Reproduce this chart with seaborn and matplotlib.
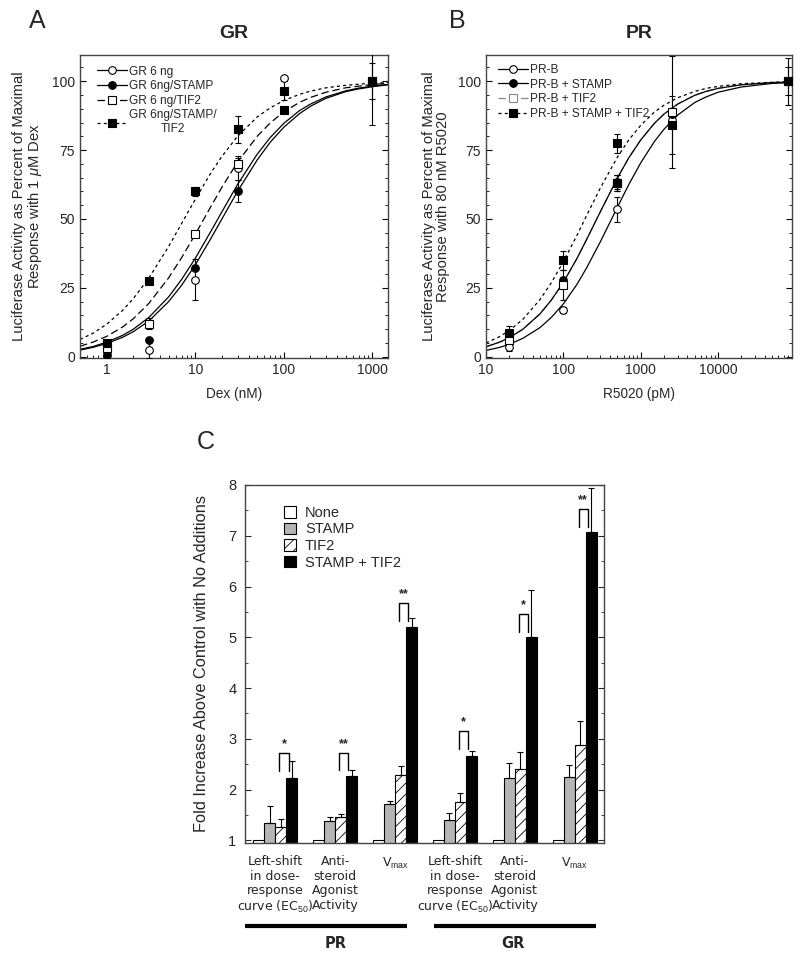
import numpy as np
import pandas as pd
import matplotlib
matplotlib.use("Agg")
import matplotlib.pyplot as plt
import seaborn as sns
from matplotlib.lines import Line2D
from matplotlib.patches import Patch
from matplotlib.ticker import MultipleLocator, LogLocator, NullFormatter
from matplotlib.transforms import blended_transform_factory

sns.set_style("ticks")
plt.rcParams["font.family"] = ["Liberation Sans", "DejaVu Sans"]
plt.rcParams["mathtext.fontset"] = "custom"
plt.rcParams["mathtext.rm"] = "Liberation Sans"
plt.rcParams["mathtext.it"] = "Liberation Sans:italic"
plt.rcParams["mathtext.bf"] = "Liberation Sans:bold"
plt.rcParams["hatch.linewidth"] = 0.6

# ---------------- panel A : GR, Dex (nM) ----------------
dex_fit = [0.5, 0.7, 1, 1.5, 2, 3, 5, 7, 10, 15, 20, 30, 50, 70, 100, 150, 200, 300, 500, 700, 1000, 1500]
gr_fit = [2.4, 3.4, 4.8, 7.0, 9.1, 13.0, 20.0, 25.9, 33.3, 42.9, 50.0, 60.0, 71.4, 77.8, 83.3, 88.2, 90.9, 93.8, 96.2, 97.2, 98.0, 98.7]
gr_stamp_fit = [2.7, 3.7, 5.3, 7.7, 10.0, 14.3, 21.7, 28.0, 35.7, 45.5, 52.6, 62.5, 73.5, 79.5, 84.7, 89.3, 91.7, 94.3, 96.5, 97.5, 98.2, 98.8]
gr_tif2_fit = [3.8, 5.3, 7.4, 10.7, 13.8, 19.4, 28.6, 35.9, 44.4, 54.5, 61.5, 70.6, 80.0, 84.8, 88.9, 92.3, 94.1, 96.0, 97.6, 98.2, 98.8, 99.2]
gr_both_fit = [6.3, 8.5, 11.8, 16.7, 21.1, 28.6, 40.0, 48.3, 57.1, 66.7, 72.7, 80.0, 87.0, 90.3, 93.0, 95.2, 96.4, 97.6, 98.5, 98.9, 99.3, 99.5]

gr_x = [1, 3, 10, 30, 100, 1000]
gr_y = [2, 2.5, 28, 68.5, 101, 100]
gr_err = [1, 3, 7.5, 4.5, 0, 6.5]
gr_stamp_x = [1, 3, 10, 30, 1000]
gr_stamp_y = [0.8, 6, 32.3, 60, 100]
gr_stamp_err = [0.5, 0.5, 1, 4, 0]
gr_tif2_x = [1, 3, 10, 30, 1000]
gr_tif2_y = [3, 12, 44.5, 70, 100]
gr_tif2_err = [1.5, 2, 1, 2, 0]
gr_both_x = [1, 3, 10, 30, 100, 100, 1000]
gr_both_y = [5, 27.5, 60, 82.5, 96.5, 89.5, 100]
gr_both_err = [1, 1, 1.5, 5, 3.5, 0, 16]

gr_labels = ["GR 6 ng", "GR 6ng/STAMP", "GR 6 ng/TIF2", "GR 6ng/STAMP/\nTIF2"]

# ---------------- panel B : PR, R5020 (pM) ----------------
r5020_fit = [10, 15, 20, 30, 50, 70, 100, 150, 200, 300, 500, 700, 1000, 1500, 2000, 3000, 5000, 7000, 10000, 20000, 50000, 90000]
pr_fit = [2.3, 3.4, 4.5, 6.7, 10.6, 14.3, 19.2, 26.3, 32.3, 41.7, 54.3, 62.5, 70.4, 78.1, 82.6, 87.7, 92.3, 94.3, 96.0, 97.9, 99.2, 99.5]
pr_stamp_fit = [3.6, 5.3, 6.9, 10.0, 15.6, 20.6, 27.0, 35.7, 42.6, 52.6, 64.9, 72.2, 78.7, 84.7, 88.1, 91.7, 94.9, 96.3, 97.4, 98.7, 99.5, 99.7]
pr_tif2_fit = [3.6, 5.3, 6.9, 10.0, 15.6, 20.6, 27.0, 35.7, 42.6, 52.6, 64.9, 72.2, 78.7, 84.7, 88.1, 91.7, 94.9, 96.3, 97.4, 98.7, 99.5, 99.7]
pr_both_fit = [5.0, 7.3, 9.5, 13.6, 20.8, 26.9, 34.5, 44.1, 51.3, 61.2, 72.5, 78.7, 84.0, 88.8, 91.3, 94.0, 96.3, 97.4, 98.1, 99.1, 99.6, 99.8]

pr_x = [20, 100, 500, 2500, 80000]
pr_y = [3.7, 17, 53.5, 86, 100]
pr_err = [1.5, 1, 4.5, 2, 5]
pr_stamp_x = [20, 100, 500, 2500, 80000]
pr_stamp_y = [7, 28, 63.5, 88, 100]
pr_stamp_err = [1, 1, 2.5, 2, 1]
pr_tif2_x = [20, 100, 500, 2500, 80000]
pr_tif2_y = [6, 26, 63, 88.7, 100]
pr_tif2_err = [1, 5.5, 3, 20.3, 8.5]
pr_both_x = [20, 100, 500, 500, 2500, 80000]
pr_both_y = [8.5, 35, 77.5, 63, 84, 100]
pr_both_err = [2.5, 3.5, 3.5, 3, 10.5, 0]

pr_labels = ["PR-B", "PR-B + STAMP", "PR-B + TIF2", "PR-B + STAMP + TIF2"]

# ---------------- panel C : fold increase ----------------
group_keys = ["PR_ec50", "PR_anti", "PR_vmax", "GR_ec50", "GR_anti", "GR_vmax"]
group_labels = [
    "Left-shift\nin dose-\nresponse\ncurve (EC$_{50}$)",
    "Anti-\nsteroid\nAgonist\nActivity",
    "V$_{\\mathrm{max}}$",
    "Left-shift\nin dose-\nresponse\ncurve (EC$_{50}$)",
    "Anti-\nsteroid\nAgonist\nActivity",
    "V$_{\\mathrm{max}}$",
]
conditions = ["None", "STAMP", "TIF2", "STAMP + TIF2"]
none_vals = [1, 1, 1, 1, 1, 1]
stamp_vals = [1.35, 1.39, 1.71, 1.40, 2.23, 2.25]
stamp_err = [0.32, 0.07, 0.07, 0.14, 0.29, 0.23]
tif2_vals = [1.26, 1.47, 2.29, 1.76, 2.41, 2.87]
tif2_err = [0.17, 0.05, 0.17, 0.18, 0.33, 0.48]
both_vals = [2.22, 2.26, 5.20, 2.67, 5.00, 7.07]
both_err = [0.34, 0.12, 0.18, 0.10, 0.94, 0.87]
bracket_low = [2.37, 2.39, 5.32, 2.80, 5.10, 7.18]
bracket_high = [2.72, 2.72, 5.68, 3.15, 5.46, 7.53]
stars = ["*", "**", "**", "*", "*", "**"]

fig = plt.figure(figsize=(8, 9.55), dpi=100)
axA = fig.add_axes([0.1, 0.625, 0.385, 0.3174])
axB = fig.add_axes([0.6075, 0.625, 0.3825, 0.3174])
axC = fig.add_axes([0.306, 0.1173, 0.449, 0.3749])

ls_long = (0, (6, 3))
ls_short = (0, (2.5, 2.5))
frame_col = "#444444"


def dose_panel(ax, fx, fits, pts, tif2_col):
    ax.set_xscale("log")
    styles = ["-", "-", ls_long, ls_short]
    cols = ["k", "k", tif2_col, "k"]
    for i in [2, 0, 1, 3]:
        sns.lineplot(x=fx, y=fits[i], ax=ax, color=cols[i], linestyle=styles[i], lw=0.9, zorder=2)
    mk = [("o", "white"), ("o", "k"), ("s", "white"), ("s", "k")]
    for i, (px, py, pe) in enumerate(pts):
        ax.errorbar(px, py, yerr=pe, fmt=mk[i][0], mfc=mk[i][1], mec="k", mew=0.8,
                    ms=5.5, ecolor="k", elinewidth=0.8, capsize=2, capthick=0.8, zorder=3)
    handles = [Line2D([0], [0], color=cols[i], lw=0.9, linestyle=styles[i], marker=mk[i][0],
                      mfc=mk[i][1], mec="k" if i != 2 else tif2_col, mew=0.8, ms=5.5) for i in range(4)]
    return handles


hA = dose_panel(axA, dex_fit, [gr_fit, gr_stamp_fit, gr_tif2_fit, gr_both_fit],
                [(gr_x, gr_y, gr_err), (gr_stamp_x, gr_stamp_y, gr_stamp_err),
                 (gr_tif2_x, gr_tif2_y, gr_tif2_err), (gr_both_x, gr_both_y, gr_both_err)], "k")
hB = dose_panel(axB, r5020_fit, [pr_fit, pr_stamp_fit, pr_tif2_fit, pr_both_fit],
                [(pr_x, pr_y, pr_err), (pr_stamp_x, pr_stamp_y, pr_stamp_err),
                 (pr_tif2_x, pr_tif2_y, pr_tif2_err), (pr_both_x, pr_both_y, pr_both_err)], "#888888")

axA.set_xlim(0.5, 1500)
axA.set_xticks([1, 10, 100, 1000], labels=["1", "10", "100", "1000"])
axB.set_xlim(10, 90000)
axB.set_xticks([10, 100, 1000, 10000], labels=["10", "100", "1000", "10000"])

legA = axA.legend(hA, gr_labels, loc="upper left", bbox_to_anchor=(0.035, 0.985), frameon=False,
                  fontsize=8.6, handlelength=2.5, handletextpad=0.2, labelspacing=0.22, borderpad=0)
for t in legA.get_texts():
    t.set_multialignment("center")
axB.legend(hB, pr_labels, loc="upper left", bbox_to_anchor=(0.02, 0.99), frameon=False,
           fontsize=8.6, handlelength=2.5, handletextpad=0.2, labelspacing=0.22, borderpad=0)

for ax, title, xl, yl in [
    (axA, "GR", "Dex (nM)", "Luciferase Activity as Percent of Maximal\nResponse with 1 $\\mu$M Dex"),
    (axB, "PR", "R5020 (pM)", "Luciferase Activity as Percent of Maximal\nResponse with 80 nM R5020"),
]:
    ax.set_ylim(-0.5, 109.5)
    ax.set_yticks([0, 25, 50, 75, 100])
    ax.yaxis.set_minor_locator(MultipleLocator(5))
    ax.xaxis.set_minor_locator(LogLocator(base=10, subs=np.arange(2, 10)))
    ax.xaxis.set_minor_formatter(NullFormatter())
    ax.tick_params(which="both", direction="in", left=True, right=True, top=False, bottom=True,
                   labelsize=10, color="k")
    ax.tick_params(which="major", length=4)
    ax.tick_params(which="minor", length=2.5)
    ax.set_title(title, fontweight="bold", fontsize=14, pad=12)
    ax.set_xlabel(xl, fontsize=9.8, labelpad=7)
    ax.set_ylabel(yl, fontsize=10.6, labelpad=6, linespacing=0.95)
    for s in ax.spines.values():
        s.set_color(frame_col)
        s.set_linewidth(1.0)

# ---------------- bars ----------------
bar_df = pd.DataFrame({
    "group": group_keys * 4,
    "condition": np.repeat(conditions, len(group_keys)),
    "value": none_vals + stamp_vals + tif2_vals + both_vals,
})
pal = {"None": "white", "STAMP": "#b5b5b5", "TIF2": "white", "STAMP + TIF2": "black"}
sns.barplot(data=bar_df, x="group", y="value", hue="condition", hue_order=conditions,
            order=group_keys, palette=pal, edgecolor="k", linewidth=0.8, width=0.74,
            errorbar=None, saturation=1, legend=False, ax=axC)

for bar in axC.containers[2]:
    bar.set_hatch("///")

for ci, errs in [(1, stamp_err), (2, tif2_err), (3, both_err)]:
    bars = axC.containers[ci]
    cx = [b.get_x() + b.get_width() / 2 for b in bars]
    cy = [b.get_height() for b in bars]
    axC.errorbar(cx, cy, yerr=[np.zeros(len(errs)), errs], fmt="none", ecolor="k",
                 elinewidth=0.8, capsize=2, capthick=0.8, zorder=3)

# significance brackets between TIF2 and STAMP + TIF2 bars
tif_bars = axC.containers[2]
both_bars = axC.containers[3]
for i in range(len(group_keys)):
    xl = tif_bars[i].get_x() + tif_bars[i].get_width() * 0.35
    xr = both_bars[i].get_x() + both_bars[i].get_width() * 0.2
    axC.plot([xl, xl, xr, xr], [bracket_low[i], bracket_high[i], bracket_high[i], bracket_low[i]],
             color="k", lw=1.0)
    axC.text((xl + xr) / 2, bracket_high[i] + 0.06, stars[i], ha="center", va="bottom",
             fontsize=9, fontweight="bold")

axC.set_xlim(-0.51, 5.49)
axC.set_ylim(0.95, 8)
axC.yaxis.set_major_locator(MultipleLocator(1))
axC.yaxis.set_minor_locator(MultipleLocator(0.5))
axC.tick_params(axis="y", which="both", direction="in", left=True, right=True, labelsize=10.5, pad=6)
axC.tick_params(axis="y", which="major", length=4)
axC.tick_params(axis="y", which="minor", length=2.5)
axC.tick_params(axis="x", length=0, pad=9)
axC.set_xticks(range(len(group_keys)))
axC.set_xticklabels(group_labels, fontfamily="DejaVu Sans", fontsize=9, linespacing=1.15)
axC.set_xlabel("")
axC.set_ylabel("Fold Increase Above Control with No Additions", fontsize=11.8)
axC.yaxis.set_label_coords(-0.1, 0.5)
for s in axC.spines.values():
    s.set_color(frame_col)
    s.set_linewidth(1.0)

legC_handles = [Patch(facecolor=pal[c], edgecolor="k", linewidth=0.8, hatch="///" if c == "TIF2" else None)
                for c in conditions]
axC.legend(legC_handles, conditions, loc="upper left", bbox_to_anchor=(0.088, 0.962), frameon=False,
           fontsize=10.5, handlelength=0.85, handleheight=0.85, handletextpad=0.6, labelspacing=0.18,
           borderpad=0)

# PR / GR group bars under the categories
trC = blended_transform_factory(axC.transData, axC.transAxes)
axC.plot([-0.51, 2.2], [-0.232, -0.232], color="k", lw=3, transform=trC, clip_on=False,
         solid_capstyle="butt")
axC.plot([2.65, 5.35], [-0.232, -0.232], color="k", lw=3, transform=trC, clip_on=False,
         solid_capstyle="butt")
axC.text(1.0, -0.28, "PR", transform=trC, ha="center", va="center", fontsize=10.5, fontweight="bold",
         fontfamily="DejaVu Sans")
axC.text(3.97, -0.28, "GR", transform=trC, ha="center", va="center", fontsize=10.5, fontweight="bold",
         fontfamily="DejaVu Sans")

fig.text(37 / 800, 1 - 21 / 955, "A", fontsize=18, ha="center", va="center")
fig.text(457 / 800, 1 - 21 / 955, "B", fontsize=18, ha="center", va="center")
fig.text(206 / 800, 1 - 442 / 955, "C", fontsize=18, ha="center", va="center")

fig.savefig("out.png", dpi=100)
